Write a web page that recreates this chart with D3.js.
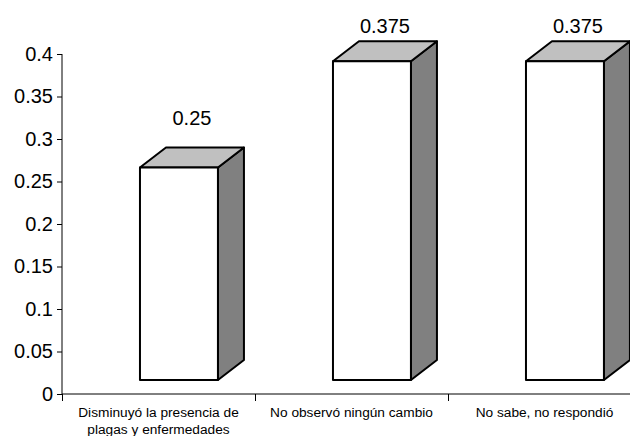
<!DOCTYPE html>
<html>
<head>
<meta charset="utf-8">
<script src="https://cdn.jsdelivr.net/npm/d3@7"></script>
<style>
  html, body { margin: 0; padding: 0; background: #fff; }
  svg { display: block; font-family: Arial, "Liberation Sans", sans-serif; }
</style>
</head>
<body>
<svg id="chart" width="630" height="436"></svg>
<script>
const categories = [
  ["Disminuyó la presencia de", "plagas y enfermedades"],
  ["No observó ningún cambio"],
  ["No sabe, no respondió"]
];
const values = [0.25, 0.375, 0.375];
const valueLabels = ["0.25", "0.375", "0.375"];
const yTicks = [0, 0.05, 0.1, 0.15, 0.2, 0.25, 0.3, 0.35, 0.4];
const yTickLabels = ["0", "0.05", "0.1", "0.15", "0.2", "0.25", "0.3", "0.35", "0.4"];

const svg = d3.select("#chart");
const x0 = 62, x1 = 641, yBase = 394, yTop = 54;
const depthX = 26, depthY = -20, liftY = -14;

const x = d3.scaleBand().domain(d3.range(categories.length)).range([x0, x1]).padding(0);
const y = d3.scaleLinear().domain([0, 0.4]).range([yBase, yTop]);
const step = x.step();
const barW = step * 0.404;
const barOff = step * 0.404;

// bars
const g = svg.append("g");
values.forEach((v, i) => {
  const fx = x(i) + barOff;
  const fTop = y(v) + liftY;
  const fBot = y(0) + liftY;
  const bars = g.append("g").attr("stroke", "#000").attr("stroke-width", 2).attr("stroke-linejoin", "round");
  bars.append("path")
    .attr("d", `M${fx + barW},${fTop} L${fx + barW + depthX},${fTop + depthY} L${fx + barW + depthX},${fBot + depthY} L${fx + barW},${fBot} Z`)
    .attr("fill", "#808080");
  bars.append("path")
    .attr("d", `M${fx},${fTop} L${fx + depthX},${fTop + depthY} L${fx + barW + depthX},${fTop + depthY} L${fx + barW},${fTop} Z`)
    .attr("fill", "#C0C0C0");
  bars.append("rect")
    .attr("x", fx).attr("y", fTop).attr("width", barW).attr("height", fBot - fTop)
    .attr("fill", "#fff");
  svg.append("text")
    .attr("x", fx + (barW + depthX) / 2)
    .attr("y", Math.max(y(v) - 56.5, 33))
    .attr("text-anchor", "middle")
    .attr("font-size", 20)
    .attr("fill", "#000")
    .text(valueLabels[i]);
});

// y axis
const yAxis = d3.axisLeft(y).tickValues(yTicks)
  .tickFormat((d, i) => yTickLabels[i]).tickSize(5).tickPadding(4);
const ya = svg.append("g").attr("transform", `translate(${x0},0)`).call(yAxis);
ya.select(".domain").attr("stroke", "#000").attr("d", `M0,${yTop}V${yBase}`);
ya.selectAll(".tick line").attr("stroke", "#000");
ya.selectAll(".tick text").attr("font-size", 20).attr("fill", "#000").attr("font-family", "Arial, 'Liberation Sans', sans-serif");

// x axis
const xb = d3.scaleLinear().domain([0, categories.length]).range([x0, x1]);
const xa = svg.append("g").attr("transform", `translate(0,${yBase})`)
  .call(d3.axisBottom(xb).tickValues(d3.range(categories.length + 1)).tickSize(7).tickFormat(""));
xa.select(".domain").attr("stroke", "#000").attr("d", `M${x0},0H${x1}`);
xa.selectAll(".tick line").attr("stroke", "#000");

// category labels
categories.forEach((lines, i) => {
  const t = svg.append("text")
    .attr("x", x(i) + step / 2)
    .attr("y", 416.5)
    .attr("text-anchor", "middle")
    .attr("font-size", 13.7)
    .attr("fill", "#000");
  lines.forEach((ln, j) => {
    t.append("tspan").attr("x", x(i) + step / 2).attr("dy", j === 0 ? 0 : 17.5).text(ln);
  });
});
</script>
</body>
</html>
